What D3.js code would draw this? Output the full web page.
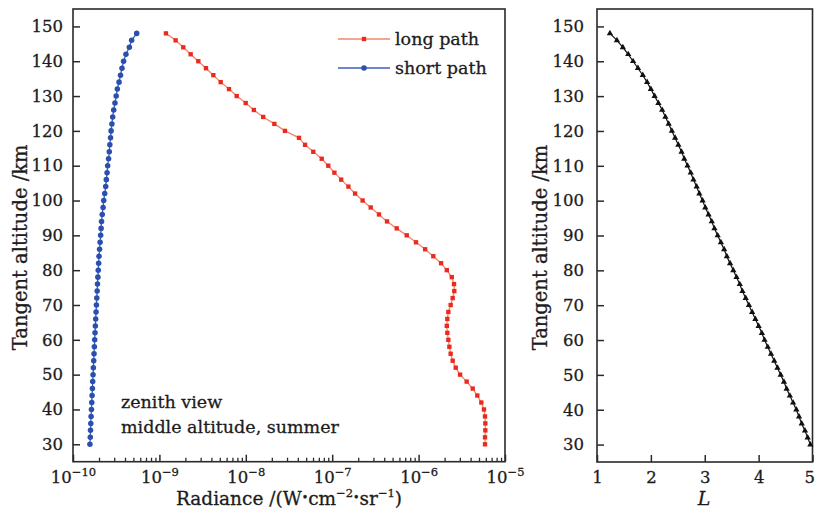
<!DOCTYPE html>
<html><head><meta charset="utf-8">
<script src="https://cdn.jsdelivr.net/npm/d3@7"></script>
<style>
body{margin:0;background:#fff}
svg{display:block}
text{font-family:"DejaVu Serif",serif;fill:#1c1c1c;stroke:#1c1c1c;stroke-width:0.3px}
</style>
</head><body>
<svg id="chart" width="815" height="516"></svg>
<script>
// Tangent altitude grid (km)
const altitudes = [30,32,34,36,38,40,42,44,46,48,50,52,54,56,58,60,62,64,66,68,70,72,74,76,78,80,82,84,86,88,
  90,92,94,96,98,100,102,104,106,108,110,112,114,116,118,120,122,124,126,128,130,132,134,136,138,140,142,144,146,148];

// Radiance along the long path (W·cm^-2·sr^-1)
const longPath = [5.87e-6,5.87e-6,5.92e-6,5.92e-6,5.87e-6,5.71e-6,5.32e-6,4.78e-6,4.23e-6,3.60e-6,
  3.02e-6,2.69e-6,2.48e-6,2.35e-6,2.27e-6,2.21e-6,2.15e-6,2.12e-6,2.15e-6,2.21e-6,
  2.35e-6,2.48e-6,2.59e-6,2.57e-6,2.42e-6,2.12e-6,1.82e-6,1.48e-6,1.19e-6,9.33e-7,
  7.29e-7,5.58e-7,4.31e-7,3.48e-7,2.79e-7,2.25e-7,1.84e-7,1.54e-7,1.27e-7,1.06e-7,
  9.01e-8,7.56e-8,6.04e-8,4.85e-8,4.13e-8,2.84e-8,2.14e-8,1.59e-8,1.24e-8,9.97e-9,
  7.85e-9,6.39e-9,5.12e-9,4.21e-9,3.46e-9,2.82e-9,2.30e-9,1.89e-9,1.54e-9,1.19e-9];

// Radiance along the short path (W·cm^-2·sr^-1)
const shortPath = [1.57e-10,1.585e-10,1.595e-10,1.607e-10,1.62e-10,1.635e-10,1.649e-10,1.663e-10,1.677e-10,1.691e-10,
  1.706e-10,1.721e-10,1.737e-10,1.752e-10,1.768e-10,1.783e-10,1.799e-10,1.815e-10,1.831e-10,1.849e-10,
  1.867e-10,1.885e-10,1.904e-10,1.922e-10,1.941e-10,1.96e-10,1.98e-10,2.00e-10,2.03e-10,2.06e-10,
  2.09e-10,2.115e-10,2.14e-10,2.18e-10,2.23e-10,2.27e-10,2.33e-10,2.39e-10,2.43e-10,2.48e-10,
  2.52e-10,2.58e-10,2.63e-10,2.67e-10,2.72e-10,2.76e-10,2.82e-10,2.88e-10,2.96e-10,3.06e-10,
  3.16e-10,3.26e-10,3.41e-10,3.55e-10,3.69e-10,3.85e-10,4.10e-10,4.49e-10,4.77e-10,5.46e-10];

// L at each tangent altitude
const lValues = [4.96,4.91,4.86,4.80,4.75,4.70,4.64,4.58,4.52,4.47,
  4.41,4.35,4.29,4.23,4.17,4.11,4.06,4.00,3.94,3.88,
  3.82,3.76,3.70,3.65,3.59,3.53,3.47,3.41,3.36,3.30,
  3.24,3.18,3.13,3.07,3.01,2.96,2.90,2.85,2.79,2.74,
  2.68,2.62,2.57,2.51,2.45,2.39,2.33,2.27,2.21,2.14,
  2.07,2.00,1.93,1.85,1.76,1.67,1.58,1.48,1.37,1.24];

const altTicks = [30,40,50,60,70,80,90,100,110,120,130,140,150];
const radianceTicks = [1e-10,1e-9,1e-8,1e-7,1e-6,1e-5];
const radianceExponents = ["−10","−9","−8","−7","−6","−5"];
const lTicks = [1,2,3,4,5];
const seriesNames = ["long path","short path"];
const annotationLines = ["zenith view","middle altitude, summer"];

const svg = d3.select("#chart");
const frameColor = "#2a2a2a";
const longLine = "#f5846c", longMark = "#ea2a1e";
const shortLine = "#3b5fbf", shortMark = "#2a4fae";
const tickFont = 16.5;

// ---------- left panel: radiance profiles ----------
const L = {x0: 73, x1: 505, y0: 9, y1: 461.7};
const x = d3.scaleLog().domain([1e-10, 1e-5]).range([L.x0, L.x1]);
const y = d3.scaleLinear().domain([25, 155]).range([L.y1, L.y0]);

const yAxisL = svg.append("g").attr("transform", `translate(${L.x0},0)`)
  .call(d3.axisLeft(y).tickValues(altTicks).tickSize(-7).tickPadding(10));
yAxisL.select(".domain").remove();
yAxisL.selectAll("line").attr("stroke", frameColor).attr("stroke-width", 1.5);
yAxisL.selectAll("text").attr("font-size", tickFont).attr("font-family", "DejaVu Serif").attr("fill", "#1c1c1c");

// minor log ticks
const minorTicks = [];
radianceTicks.slice(0, -1).forEach(d => { for (let k = 2; k <= 9; k++) minorTicks.push(d * k); });
const xMinor = svg.append("g").attr("transform", `translate(0,${L.y1})`)
  .call(d3.axisBottom(x).tickValues(minorTicks).tickSize(-4).tickFormat(""));
xMinor.select(".domain").remove();
xMinor.selectAll("line").attr("stroke", frameColor).attr("stroke-width", 1.3);

const xMajor = svg.append("g").attr("transform", `translate(0,${L.y1})`)
  .call(d3.axisBottom(x).tickValues(radianceTicks).tickSize(-7).tickFormat(""));
xMajor.select(".domain").remove();
xMajor.selectAll("line").attr("stroke", frameColor).attr("stroke-width", 1.5);
xMajor.selectAll(".tick").each(function(d, i) {
  const t = d3.select(this).append("text").attr("y", 21.5).attr("text-anchor", "middle")
    .attr("font-size", tickFont).attr("font-family", "DejaVu Serif").attr("fill", "#1c1c1c");
  t.append("tspan").text("10");
  t.append("tspan").attr("font-size", 11.5).attr("dy", -7).text(radianceExponents[i]);
});

// frame
svg.append("rect").attr("x", L.x0).attr("y", L.y0).attr("width", L.x1 - L.x0).attr("height", L.y1 - L.y0)
  .attr("fill", "none").attr("stroke", frameColor).attr("stroke-width", 1.6);

const plotL = svg.append("g");
const lineLong = d3.line().x(d => x(d[1])).y(d => y(d[0]));
const longData = altitudes.map((a, i) => [a, longPath[i]]);
const shortData = altitudes.map((a, i) => [a, shortPath[i]]);

plotL.append("path").datum(longData).attr("d", lineLong).attr("fill", "none")
  .attr("stroke", longLine).attr("stroke-width", 1.3);
plotL.append("path").datum(shortData).attr("d", lineLong).attr("fill", "none")
  .attr("stroke", shortLine).attr("stroke-width", 1.3);
plotL.selectAll(".sq").data(longData).join("path").attr("class", "sq")
  .attr("d", d3.symbol(d3.symbolSquare, 19))
  .attr("transform", d => `translate(${x(d[1])},${y(d[0])})`).attr("fill", longMark);
plotL.selectAll(".dot").data(shortData).join("path").attr("class", "dot")
  .attr("d", d3.symbol(d3.symbolCircle, 24))
  .attr("transform", d => `translate(${x(d[1])},${y(d[0])})`).attr("fill", shortMark);

// legend
const legend = svg.append("g");
const legendItems = [
  {name: seriesNames[0], line: longLine, mark: longMark, sym: d3.symbolSquare, size: 19, y: 39},
  {name: seriesNames[1], line: shortLine, mark: shortMark, sym: d3.symbolCircle, size: 24, y: 68}
];
legendItems.forEach(it => {
  legend.append("line").attr("x1", 338).attr("x2", 390).attr("y1", it.y).attr("y2", it.y)
    .attr("stroke", it.line).attr("stroke-width", 1.5);
  legend.append("path").attr("d", d3.symbol(it.sym, it.size)).attr("transform", `translate(364,${it.y})`)
    .attr("fill", it.mark);
  legend.append("text").attr("x", 395).attr("y", it.y + 6).attr("font-size", 17.5).text(it.name);
});

// annotation
svg.append("g").selectAll("text").data(annotationLines).join("text")
  .attr("x", 121).attr("y", (d, i) => 408 + i * 25).attr("font-size", 17.5).text(d => d);

// axis titles
svg.append("text").attr("transform", `translate(27,${(L.y0 + L.y1) / 2 + 12}) rotate(-90)`)
  .attr("text-anchor", "middle").attr("font-size", 19.5).text("Tangent altitude /km");

const xt = svg.append("text").attr("x", 289).attr("y", 505).attr("text-anchor", "middle").attr("font-size", 18.5);
xt.append("tspan").text("Radiance /(W");
xt.append("tspan").attr("font-size", 11).attr("dy", -4).text("•");
xt.append("tspan").attr("dy", 4).text("cm");
xt.append("tspan").attr("font-size", 11.5).attr("dy", -8).text("−2");
xt.append("tspan").attr("font-size", 11).attr("dy", 4).text("•");
xt.append("tspan").attr("dy", 4).text("sr");
xt.append("tspan").attr("font-size", 11.5).attr("dy", -8).text("−1");
xt.append("tspan").attr("dy", 8).text(")");

// ---------- right panel: L ----------
const R = {x0: 597, x1: 812.5, y0: 9, y1: 462};
const xr = d3.scaleLinear().domain([1, 5]).range([R.x0, R.x1]);
const yr = d3.scaleLinear().domain([25, 155]).range([R.y1, R.y0]);

const yAxisR = svg.append("g").attr("transform", `translate(${R.x0},0)`)
  .call(d3.axisLeft(yr).tickValues(altTicks).tickSize(-7).tickPadding(13));
yAxisR.select(".domain").remove();
yAxisR.selectAll("line").attr("stroke", frameColor).attr("stroke-width", 1.5);
yAxisR.selectAll("text").attr("font-size", tickFont).attr("font-family", "DejaVu Serif").attr("fill", "#1c1c1c");

const xAxisR = svg.append("g").attr("transform", `translate(0,${R.y1})`)
  .call(d3.axisBottom(xr).tickValues(lTicks).tickSize(-7).tickPadding(9).tickFormat(d3.format("d")));
xAxisR.select(".domain").remove();
xAxisR.selectAll("line").attr("stroke", frameColor).attr("stroke-width", 1.5);
xAxisR.selectAll("text").attr("font-size", tickFont).attr("font-family", "DejaVu Serif").attr("fill", "#1c1c1c");
// keep the last label inside the canvas edge
xAxisR.selectAll(".tick").filter(d => d === lTicks[lTicks.length - 1]).select("text")
  .attr("text-anchor", "end").attr("x", 2);

svg.append("rect").attr("x", R.x0).attr("y", R.y0).attr("width", R.x1 - R.x0).attr("height", R.y1 - R.y0)
  .attr("fill", "none").attr("stroke", frameColor).attr("stroke-width", 1.6);

const lData = altitudes.map((a, i) => [a, lValues[i]]);
const lineR = d3.line().x(d => xr(d[1])).y(d => yr(d[0]));
svg.append("path").datum(lData).attr("d", lineR).attr("fill", "none")
  .attr("stroke", "#111").attr("stroke-width", 1.2);
svg.append("g").selectAll("path").data(lData).join("path")
  .attr("d", d3.symbol(d3.symbolTriangle, 17))
  .attr("transform", d => `translate(${xr(d[1])},${yr(d[0])})`).attr("fill", "#111");

svg.append("text").attr("transform", `translate(547,${(R.y0 + R.y1) / 2 + 12}) rotate(-90)`)
  .attr("text-anchor", "middle").attr("font-size", 19.5).text("Tangent altitude /km");
svg.append("text").attr("x", 704).attr("y", 505).attr("text-anchor", "middle")
  .attr("font-size", 19).attr("font-style", "italic").text("L");
</script>
</body></html>
